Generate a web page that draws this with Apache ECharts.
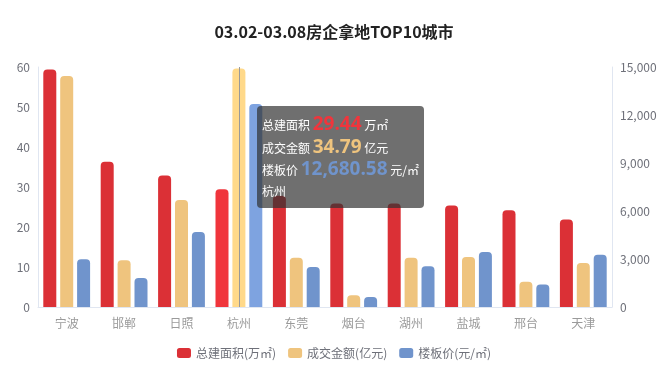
<!DOCTYPE html>
<html>
<head>
<meta charset="utf-8">
<script src="https://cdn.jsdelivr.net/npm/echarts@6/dist/echarts.min.js"></script>
<style>
html,body{margin:0;padding:0;background:#fff;}
#c{width:668px;height:374px;}
</style>
</head>
<body>
<div id="c"></div>
<script>
const titleText = '03.02-03.08房企拿地TOP10城市';
const cities = ['宁波','邯郸','日照','杭州','东莞','烟台','湖州','盐城','邢台','天津'];
const seriesNames = ['总建面积(万㎡)','成交金额(亿元)','楼板价(元/㎡)'];
const areaValues = [59.4, 36.3, 32.9, 29.44, 27.8, 25.9, 25.9, 25.4, 24.2, 21.9];
const amountValues = [33.7, 6.8, 15.6, 34.79, 7.2, 1.7, 7.2, 7.3, 3.7, 6.4];
const priceValues = [2980, 1810, 4690, 12680.58, 2500, 625, 2540, 3440, 1400, 3270];
const leftTicks = [0, 60, 10];
const rightTicks = [0, 15000, 3000];

const FONT = '"Noto Sans CJK SC", "Noto Sans", sans-serif';
const colors = ['#db3036', '#efc47e', '#7094cc'];
const emph = ['#f0353c', '#ffd98a', '#7ea3e0'];

function fmt(v, d){
  return Number(v).toLocaleString('en-US',{minimumFractionDigits:d,maximumFractionDigits:d});
}

const chart = echarts.init(document.getElementById('c'), null, {renderer:'canvas'});
chart.setOption({
  animation:false,
  title:{text:titleText,left:'center',top:19,textStyle:{fontSize:16,fontWeight:'bold',color:'#222',fontFamily:FONT}},
  tooltip:{
    trigger:'axis',
    alwaysShowContent:true,
    transitionDuration:0,
    backgroundColor:'rgba(50,50,50,0.7)',
    borderWidth:0,
    borderRadius:4,
    padding:[6,5,6,5],
    extraCssText:'box-shadow:none;',
    textStyle:{color:'#fff',fontSize:12,fontFamily:FONT},
    axisPointer:{type:'line',lineStyle:{color:'#999',width:1,type:'solid'}},
    position:function(){return [257,106];},
    formatter:function(params){
      const i = params[0].dataIndex;
      const num = (c,t)=>'<span style="color:'+c+';font-size:19px;font-weight:bold;font-family:\'Open Sans\',sans-serif;">'+t+'</span>';
      const row = s=>'<div style="line-height:22.5px;height:22.5px;white-space:nowrap;">'+s+'</div>';
      return row('总建面积 '+num(emph[0],fmt(areaValues[i],2))+' 万㎡')+
             row('成交金额 '+num(colors[1],fmt(amountValues[i],2))+' 亿元')+
             row('楼板价 '+num(colors[2],fmt(priceValues[i],2))+' 元/㎡')+
             row(cities[i]);
    }
  },
  legend:{
    bottom:10,left:'center',
    itemWidth:14,itemHeight:10,itemGap:12,
    icon:'roundRect',
    textStyle:{color:'#6e7079',fontSize:12,fontFamily:FONT},
    data:seriesNames
  },
  grid:{left:38,right:56,top:67,bottom:67,containLabel:false},
  xAxis:{
    type:'category',data:cities,
    axisLine:{lineStyle:{color:'#e0e6f1'}},
    axisTick:{alignWithLabel:true,lineStyle:{color:'#e0e6f1'}},
    axisLabel:{color:'#9a9a9a',fontSize:12,margin:10,fontFamily:FONT}
  },
  yAxis:[
    {type:'value',min:leftTicks[0],max:leftTicks[1],interval:leftTicks[2],position:'left',
     axisLine:{show:true,lineStyle:{color:'#e0e6f1'}},axisTick:{show:false},splitLine:{show:false},
     axisLabel:{color:'#6e7079',fontSize:12,fontFamily:FONT}},
    {type:'value',min:rightTicks[0],max:rightTicks[1],interval:rightTicks[2],position:'right',
     axisLine:{show:true,lineStyle:{color:'#e0e6f1'}},axisTick:{show:false},splitLine:{show:false},
     axisLabel:{color:'#6e7079',fontSize:12,fontFamily:FONT,formatter:v=>fmt(v,0)}},
    {type:'value',min:0,max:35,show:false,splitLine:{show:false}}
  ],
  series:[
    {name:seriesNames[0],type:'bar',yAxisIndex:0,data:areaValues,barWidth:13,barGap:'30%',
     itemStyle:{color:colors[0],borderRadius:[4,4,0,0]},emphasis:{itemStyle:{color:emph[0]}}},
    {name:seriesNames[1],type:'bar',yAxisIndex:2,data:amountValues,barWidth:13,barGap:'30%',
     itemStyle:{color:colors[1],borderRadius:[4,4,0,0]},emphasis:{itemStyle:{color:emph[1]}}},
    {name:seriesNames[2],type:'bar',yAxisIndex:1,data:priceValues,barWidth:13,barGap:'30%',
     itemStyle:{color:colors[2],borderRadius:[4,4,0,0]},emphasis:{itemStyle:{color:emph[2]}}}
  ]
});
chart.dispatchAction({type:'showTip',seriesIndex:0,dataIndex:3});
setTimeout(function(){chart.dispatchAction({type:'showTip',seriesIndex:0,dataIndex:3});},50);
</script>
</body>
</html>
